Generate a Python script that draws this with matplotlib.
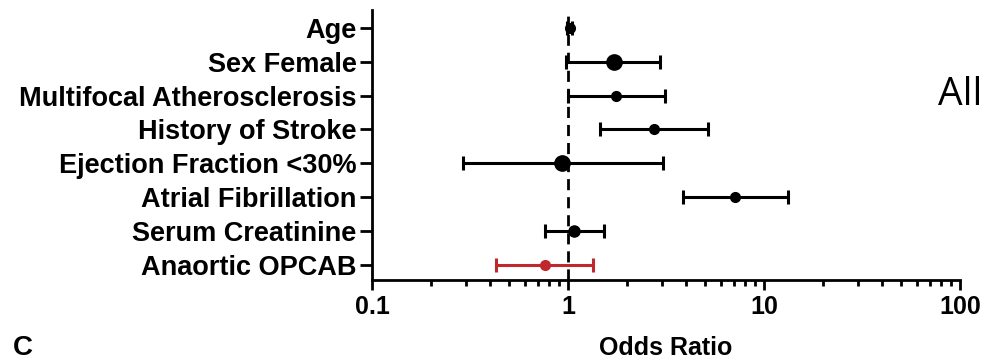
import numpy as np
import matplotlib.pyplot as plt
import matplotlib.ticker as ticker

plt.rcParams['font.family'] = ['Liberation Sans', 'DejaVu Sans']

labels = ['Age', 'Sex Female', 'Multifocal Atherosclerosis', 'History of Stroke',
          'Ejection Fraction <30%', 'Atrial Fibrillation', 'Serum Creatinine', 'Anaortic OPCAB']
odds = [1.02, 1.72, 1.76, 2.75, 0.93, 7.1, 1.07, 0.76]
ci_low = [0.99, 0.98, 1.0, 1.46, 0.29, 3.86, 0.76, 0.43]
ci_high = [1.05, 2.95, 3.12, 5.18, 3.05, 13.3, 1.53, 1.34]
colors = ['black'] * 7 + ['#c0282d']
msizes = [7, 11, 7, 7, 11, 7, 8, 7]

fig = plt.figure(figsize=(9.83, 3.62), dpi=100)
ax = fig.add_axes([372 / 983, 1 - 280 / 362, (960 - 372) / 983, (280 - 10) / 362])

n = len(labels)
ypos = np.arange(n)[::-1]
for i in range(n):
    ax.errorbar(odds[i], ypos[i],
                xerr=[[odds[i] - ci_low[i]], [ci_high[i] - odds[i]]],
                fmt='o', color=colors[i], ms=msizes[i], elinewidth=2.2,
                capsize=5, capthick=2.2, zorder=3)

ax.axvline(1, color='black', ls=(0, (4, 2.5)), lw=2, zorder=2)

ax.set_xscale('log')
ax.set_xlim(0.1, 100)
ax.set_ylim(-0.45, n - 1 + 0.53)
ax.set_yticks(ypos)
ax.set_yticklabels(labels, fontsize=19.5, fontweight='bold')
ax.xaxis.set_major_formatter(ticker.FuncFormatter(lambda v, p: '%g' % v))
ax.xaxis.set_minor_formatter(ticker.NullFormatter())
for lab in ax.get_xticklabels():
    lab.set_fontweight('bold')
ax.tick_params(axis='x', which='major', labelsize=18, width=2, length=7, pad=4)
ax.tick_params(axis='x', which='minor', width=2, length=4)
ax.tick_params(axis='y', width=2, length=9, pad=2)
for s in ['top', 'right']:
    ax.spines[s].set_visible(False)
for s in ['left', 'bottom']:
    ax.spines[s].set_linewidth(2)

fig.text(666 / 983, 1 - 348 / 362, 'Odds Ratio', ha='center', va='center',
         fontsize=18, fontweight='bold')
fig.text(13 / 983, 1 - 348 / 362, 'C', ha='left', va='center',
         fontsize=20, fontweight='bold')
fig.text(938 / 983, 1 - 95 / 362, 'All', ha='left', va='center',
         fontsize=28, family=['Open Sans', 'DejaVu Sans'])

fig.savefig('out.png', dpi=100)
